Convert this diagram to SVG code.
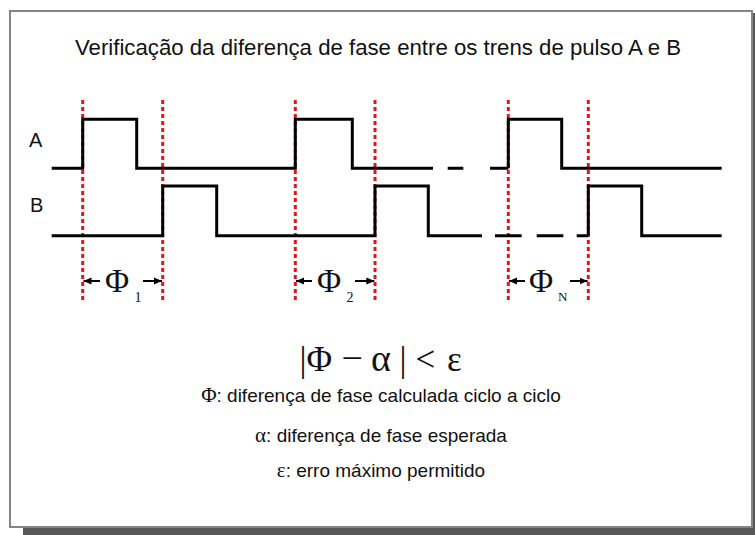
<svg xmlns="http://www.w3.org/2000/svg" width="755" height="535" viewBox="0 0 755 535">
  <style>
    .sans { font-family: "Liberation Sans", Arial, sans-serif; fill: #111; }
    .serif { font-family: "Liberation Serif", "Times New Roman", serif; fill: #111; }
    .wave { fill: none; stroke: #000; stroke-width: 3; stroke-linejoin: miter; }
    .dash { fill: none; stroke: #000; stroke-width: 3; }
    .guide { stroke: #e3141b; stroke-width: 3; stroke-dasharray: 4 3; }
    .arrow { stroke: #000; stroke-width: 2; marker-end: url(#head); }
  </style>
  <defs>
    <marker id="head" markerUnits="userSpaceOnUse" markerWidth="8" markerHeight="8" refX="8" refY="4" orient="auto">
      <path d="M0,0.5 L8,4 L0,7.5 z" fill="#000"/>
    </marker>
  </defs>

  <g id="frame">
    <rect x="23" y="13" width="732" height="522" fill="#585858"/>
    <rect x="10" y="11" width="742" height="516" fill="#fff" stroke="#858585" stroke-width="2"/>
  </g>

  <g id="title">
    <text class="sans" x="75" y="54.5" font-size="22" textLength="606" lengthAdjust="spacingAndGlyphs">Verificação da diferença de fase entre os trens de pulso A e B</text>
  </g>

  <g id="labels">
    <text class="sans" x="29" y="147" font-size="20">A</text>
    <text class="sans" x="30" y="212" font-size="20">B</text>
  </g>

  <g id="guides">
    <line class="guide" x1="82.7" y1="100" x2="82.7" y2="300"/>
    <line class="guide" x1="162.7" y1="100" x2="162.7" y2="300"/>
    <line class="guide" x1="295.3" y1="100" x2="295.3" y2="300"/>
    <line class="guide" x1="375" y1="100" x2="375" y2="300"/>
    <line class="guide" x1="508.3" y1="100" x2="508.3" y2="300"/>
    <line class="guide" x1="588.3" y1="100" x2="588.3" y2="300"/>
  </g>

  <g id="wave-A">
    <path class="wave" d="M51.7,168.3 H82.7 V119.3 H136.7 V168.3 H295.3 V119.3 H352.3 V168.3 H433"/>
    <path class="dash" d="M447.7,168.3 H463.3 M490,168.3 H508.3"/>
    <path class="wave" d="M508.3,168.3 V119.3 H561.7 V168.3 H721.7"/>
  </g>

  <g id="wave-B">
    <path class="wave" d="M51.7,235.7 H162.7 V186 H216.7 V235.7 H375 V186 H428.3 V235.7 H482"/>
    <path class="dash" d="M495,235.7 H521.7 M536.7,235.7 H563.3 M576.7,235.7 H588.3"/>
    <path class="wave" d="M588.3,235.7 V186 H641.7 V235.7 H721.7"/>
  </g>

  <g id="connectors">
    <line class="arrow" x1="100" y1="281" x2="83.5" y2="281"/>
    <line class="arrow" x1="143" y1="281" x2="162" y2="281"/>
    <line class="arrow" x1="312" y1="281" x2="296" y2="281"/>
    <line class="arrow" x1="355" y1="281" x2="374.3" y2="281"/>
    <line class="arrow" x1="525" y1="281" x2="509" y2="281"/>
    <line class="arrow" x1="570" y1="281" x2="587.6" y2="281"/>
  </g>

  <g id="phase-labels">
    <text class="serif" x="105" y="291.7" font-size="33">Φ</text>
    <text class="serif" x="134.5" y="301.5" font-size="14">1</text>
    <text class="serif" x="317" y="291.7" font-size="33">Φ</text>
    <text class="serif" x="346.5" y="301.5" font-size="14">2</text>
    <text class="serif" x="529" y="291.7" font-size="33">Φ</text>
    <text class="serif" x="558" y="300.5" font-size="13">N</text>
  </g>

  <g id="equation">
    <text class="serif" font-size="35" y="371">
      <tspan x="299.5">|</tspan><tspan x="306.5">Φ</tspan><tspan x="341.5" font-size="38">−</tspan><tspan x="371" font-size="38">α</tspan><tspan x="399.5">|</tspan><tspan x="415.5">&lt;</tspan><tspan x="447">ε</tspan>
    </text>
  </g>

  <g id="legend">
    <text x="381" y="401.7" text-anchor="middle"><tspan class="serif" font-size="21">Φ</tspan><tspan class="sans" font-size="19">: diferença de fase calculada ciclo a ciclo</tspan></text>
    <text x="381" y="442" text-anchor="middle"><tspan class="serif" font-size="21">α</tspan><tspan class="sans" font-size="19">: diferença de fase esperada</tspan></text>
    <text x="381" y="476.5" text-anchor="middle"><tspan class="serif" font-size="21">ε</tspan><tspan class="sans" font-size="19">: erro máximo permitido</tspan></text>
  </g>
</svg>
